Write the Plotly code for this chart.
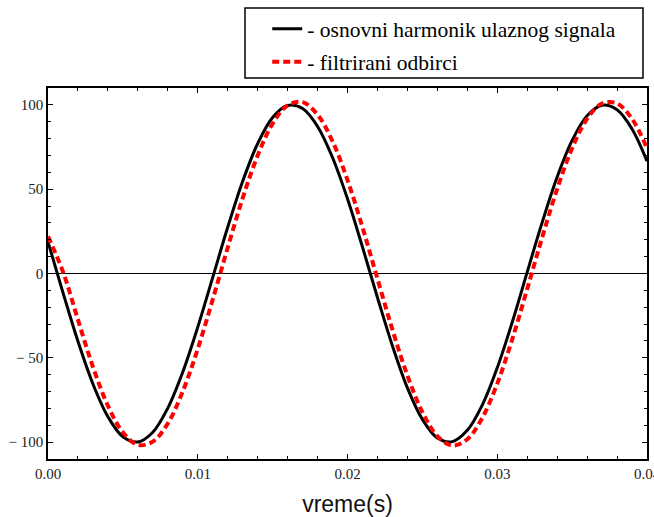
import plotly.graph_objects as go

# time samples (s)
t = [i / 1000 for i in range(41)]

# fundamental harmonic of the input signal
osnovni = [18.7, -11.3, -40.2, -65.5, -84.9, -96.8, -99.9, -94.1, -79.8, -58.4,
           -31.8, -2.3, 27.4, 54.7, 77.0, 92.5, 99.6, 97.8, 87.2, 68.8,
           44.3, 15.7, -14.2, -42.9, -67.8, -86.5, -97.5, -99.7, -93.0, -78.0,
           -55.9, -28.9, 0.8, 30.3, 57.2, 78.9, 93.6, 99.8, 97.1, 85.7, 66.6]

# filtered samples
filtrirani = [22.0, 1.0, -27.4, -55.4, -78.4, -94.2, -101.6, -99.7, -88.9, -69.9,
              -44.7, -15.4, 15.3, 44.7, 69.9, 88.9, 99.7, 101.6, 94.2, 78.4,
              55.4, 27.4, -3.1, -33.3, -60.5, -82.2, -96.4, -102.0, -98.3, -85.6,
              -65.3, -39.0, -9.2, 21.4, 50.1, 74.3, 91.7, 100.8, 100.8, 91.7, 74.3]

name_black = "- osnovni harmonik ulaznog signala"
name_red = "- filtrirani odbirci"

xtick_vals = [0.0, 0.01, 0.02, 0.03, 0.04]
xtick_text = ["0.00", "0.01", "0.02", "0.03", "0.04"]
ytick_vals = [-100, -50, 0, 50, 100]
ytick_text = ["\u2212 100", "\u2212 50", "0", "50", "100"]
x_title = "vreme(s)"

fig = go.Figure()
fig.add_trace(go.Scatter(x=t, y=osnovni, mode="lines", name=name_black, legendgroup="a",
                         line=dict(color="black", width=3, shape="spline")))
fig.add_trace(go.Scatter(x=t, y=filtrirani, mode="lines", name=name_red, legendgroup="b",
                         line=dict(color="#ff0000", width=4, shape="spline", dash="7px,4px")))

tickfont = dict(family="Liberation Serif", size=15, color="#222")
fig.update_xaxes(range=[0, 0.04], tickvals=xtick_vals, ticktext=xtick_text,
                 ticks="inside", ticklen=5, tickwidth=1, tickcolor="black",
                 minor=dict(dtick=0.002, ticks="inside", ticklen=3, tickcolor="black", showgrid=False),
                 showline=True, linecolor="black", linewidth=1.5, mirror="ticks",
                 showgrid=False, zeroline=False, tickfont=tickfont, automargin=False,
                 ticklabeloverflow="allow",
                 title=dict(text=x_title, font=dict(family="Liberation Sans", size=23, color="#111"), standoff=17))
fig.update_yaxes(range=[-110, 110], tickvals=ytick_vals, ticktext=ytick_text,
                 ticks="inside", ticklen=5, tickwidth=1, tickcolor="black",
                 minor=dict(dtick=10, ticks="inside", ticklen=3, tickcolor="black", showgrid=False),
                 showline=True, linecolor="black", linewidth=1.5, mirror="ticks",
                 showgrid=False, zeroline=True, zerolinecolor="black", zerolinewidth=1,
                 tickfont=tickfont, automargin=False)

fig.add_shape(type="rect", xref="paper", yref="paper",
              x0=0.3289, x1=0.9933, y0=1.027, y1=1.2156,
              line=dict(color="black", width=1.5), fillcolor="white", layer="below")

fig.update_layout(
    width=654, height=517,
    margin=dict(l=48, r=7, t=88, b=58),
    paper_bgcolor="white", plot_bgcolor="white",
    legend=dict(x=0.366, y=1.215, xanchor="left", yanchor="top",
                bgcolor="rgba(0,0,0,0)", borderwidth=0, tracegroupgap=2,
                font=dict(family="Liberation Serif", size=21.5, color="black")),
)

fig.write_html("out.html", config={"displayModeBar": False},
               post_script="document.body.style.margin='0';document.body.style.overflow='hidden';")
